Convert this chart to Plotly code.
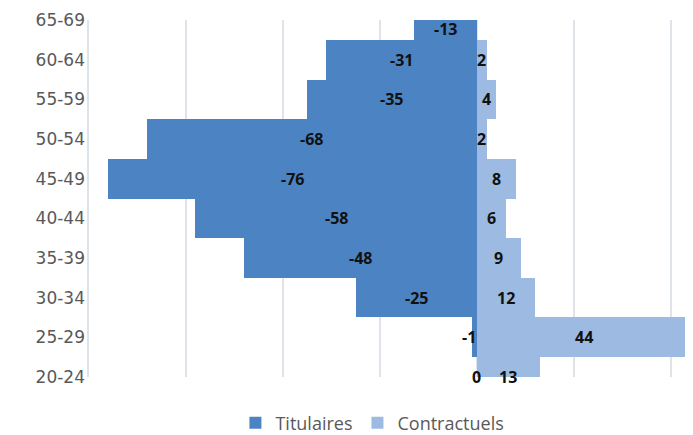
import plotly.graph_objects as go

categories = ["20-24", "25-29", "30-34", "35-39", "40-44", "45-49", "50-54", "55-59", "60-64", "65-69"]
titulaires = [0, -1, -25, -48, -58, -76, -68, -35, -31, -13]
contractuels = [13, 44, 12, 9, 6, 8, 2, 4, 2, None]
x_ticks = [-80, -60, -40, -20, 0, 20, 40]

col_tit = "#4c83c3"
col_con = "#9cbae2"

fig = go.Figure()
fig.add_trace(go.Bar(
    y=categories, x=titulaires, orientation="h", name="Titulaires",
    marker=dict(color=col_tit, line=dict(width=0)),
))
fig.add_trace(go.Bar(
    y=categories, x=contractuels, orientation="h", name="Contractuels",
    marker=dict(color=col_con, line=dict(width=0)),
))

label_font = dict(family="Open Sans, Liberation Sans, sans-serif", size=16, color="#111111")
annotations = []
n = len(categories)
for i, cat in enumerate(categories):
    yshift = -9 if i == n - 1 else 0
    t = titulaires[i]
    if t is not None:
        if t != 0 and abs(t) < 3:
            annotations.append(dict(x=0, y=cat, xref="x", yref="y", text="<b>%d</b>" % t, showarrow=False,
                                    xanchor="right", font=label_font, yshift=yshift, xshift=1))
        else:
            annotations.append(dict(x=t / 2, y=cat, xref="x", yref="y", text="<b>%d</b>" % t, showarrow=False,
                                    xanchor="center", font=label_font, yshift=yshift))
    c = contractuels[i]
    if c is not None:
        annotations.append(dict(x=c / 2, y=cat, xref="x", yref="y", text="<b>%d</b>" % c, showarrow=False,
                                xanchor="center", font=label_font, yshift=yshift))

fig.update_layout(
    width=685, height=427,
    margin=dict(l=78, r=0, t=12, b=58, autoexpand=False),
    paper_bgcolor="white", plot_bgcolor="white",
    barmode="overlay", bargap=0,
    font=dict(family="Open Sans, Liberation Sans, sans-serif", color="#595959"),
    xaxis=dict(range=[-80.5, 44.5], tickvals=x_ticks, showticklabels=False, automargin=False,
               showgrid=True, gridcolor="#dfe3ea", gridwidth=1.5, zeroline=False, showline=False),
    yaxis=dict(type="category", categoryorder="array", categoryarray=categories, automargin=False,
               range=[-0.001, 9.001], showgrid=False, zeroline=False, showline=False,
               ticks="", ticklabelstandoff=0,
               tickfont=dict(family="DejaVu Sans, Open Sans, sans-serif", size=17, color="#595959")),
    legend=dict(orientation="h", xref="container", yref="container", x=0.532, y=0.028,
                xanchor="center", yanchor="middle", font=dict(size=18, color="#595959"),
                itemwidth=30, tracegroupgap=0),
    annotations=annotations,
    showlegend=True,
)

fig.write_html("out.html")
